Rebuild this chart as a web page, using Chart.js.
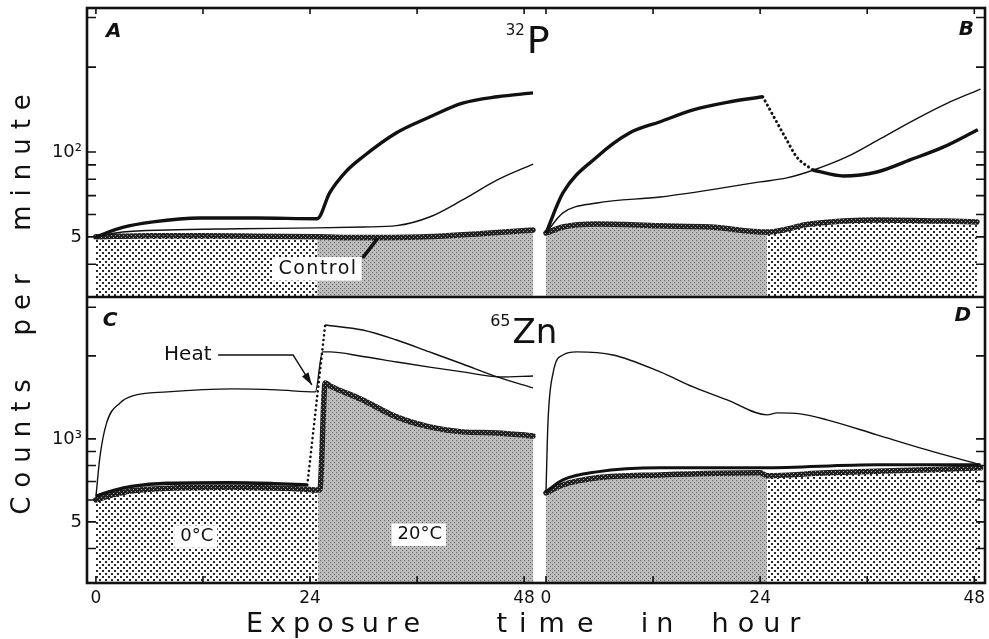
<!DOCTYPE html>
<html>
<head>
<meta charset="utf-8">
<script src="https://cdn.jsdelivr.net/npm/chart.js@4.4.1/dist/chart.umd.min.js"></script>
<style>
  html, body { margin: 0; padding: 0; background: #fff; }
  #wrap { width: 989px; height: 639px; position: relative; }
</style>
</head>
<body>
<div id="wrap"><canvas id="myChart"></canvas></div>
<script>
// hours of exposure on each panel's own axis
const hourTicks = [0, 24, 48]
const hourLabels = ["0", "24", "48"]
const hourMarks = [0, 12, 24, 36, 48]

// counts per minute, log axes
const pTickValues = [50, 100]
const pTickLabels = ["5", "10²"]
const pMarks = [40, 50, 60, 70, 80, 90, 100, 200, 300]
const znTickValues = [500, 1000]
const znTickLabels = ["5", "10³"]
const znMarks = [400, 500, 600, 700, 800, 900, 1000, 2000, 3000]

// temperature change (hour) where the shading switches
const switchHour = 24.8
const switchHourZn = 24.9

// A : 32P, heated first day
const aHeated = [[0,50],[3,54],[6.4,56.5],[11.7,58.3],[18,58.3],[24.8,58],[26.2,71.6],[28,85],[29.9,96],[33.7,117],[37.4,133],[41.1,149],[45,157],[49,162]]
const aThin = [[0,50],[3,52],[8,52.9],[16,53.4],[24.8,53.8],[30,54.2],[33.7,54.8],[37.4,58.8],[41.1,67.6],[45,79.6],[49,90.6]]
const aControl = [[0,50],[6,50.5],[12,50.5],[18,50.3],[24.8,50],[30,49.7],[37,50],[43,51.3],[49,52.9]]

// B : 32P, warm first day
const bHeatedEarly = [[0,51.6],[1.9,71.6],[5.7,96],[9.4,117],[12.8,128],[16.5,141],[20.3,150],[24.3,157]]
const bHeatedDrop = [[24.3,157],[25.9,127],[27,110],[28.1,96],[29.9,86.3]]
const bHeatedLate = [[29.9,86.3],[33.3,82.2],[37.1,84.9],[40.8,93.7],[44.5,104],[48.4,120]]
const bThin = [[0,51.6],[1.9,60.8],[5.7,65.9],[12.8,69.2],[24,78.3],[27,80.9],[30,86.3],[33.7,96],[37.6,112],[41.3,130],[45,149],[48.7,167]]
const bControl = [[0,51.6],[1.9,54.2],[5.7,55.5],[12.8,54.7],[18.4,54.2],[24.8,52],[29.6,55.5],[37.1,57.4],[48.3,56.5]]

// C : 65Zn, 0°C then 20°C
const cSteady = [[0,616],[0.45,861],[1.2,1143],[2.7,1350],[4.1,1432],[8,1480],[15.4,1518],[20.3,1505],[24.6,1480],[25.4,2067],[26.2,2067],[29.9,1990],[33.7,1901],[37.4,1820],[41.1,1749],[45.3,1677],[49,1690]]
const cHeatedCold = [[0,620],[2,650],[4,672],[8,690],[15,693],[20,688],[23.7,681]]
const cHeatJump = [[23.7,681],[25.7,2588]]
const cHeatedWarm = [[25.7,2588],[29.9,2483],[33.7,2284],[37.4,2067],[41.1,1869],[45,1677],[49,1530]]
const cControl = [[0,601],[2,628],[4,648],[8,662],[15,667],[20,663],[23.7,656],[24.9,652],[25.1,653],[25.7,1595],[26.2,1560],[29.9,1384],[33.7,1201],[37.4,1105],[41.1,1060],[45,1051],[49,1025]]

// D : 65Zn, 20°C then 0°C
const dThin = [[0,637],[0.22,1143],[0.8,1735],[1.9,2015],[3.45,2067],[7.5,2015],[12.8,1749],[16.5,1543],[20.3,1384],[24.8,1222],[25.9,1242],[28.5,1232],[31.5,1172],[37.1,1034],[42.7,912],[48.7,805]]
const dThick = [[0,643],[1.9,710],[5.7,759],[12.8,785],[24.3,785],[37.1,805],[48.7,805]]
const dControl = [[0,637],[1.9,681],[5.7,722],[12.8,740],[24,753],[24.8,735],[31.5,753],[42.7,772],[48.7,785]]

const FONT = "'DejaVu Sans', sans-serif"

function tile(size, base, dots, dotColor, dotSize) {
  const c = document.createElement("canvas")
  c.width = size; c.height = size
  const g = c.getContext("2d")
  if (base) { g.fillStyle = base; g.fillRect(0, 0, size, size) }
  g.fillStyle = dotColor
  dots.forEach(d => g.fillRect(d[0], d[1], dotSize, dotSize))
  return g.createPattern(c, "repeat")
}
const ctx = document.querySelector("#myChart").getContext("2d")
const coarse = tile(6, "#ffffff", [[0,0],[3,3]], "#2a2a2a", 2)
const fine = tile(4, "#bdbdbd", [[0,0],[2,2]], "#5e5e5e", 1)
const rope = tile(4, "#222222", [[1,1],[3,3]], "#a0a0a0", 1)

const pts = arr => arr.map(p => ({x: p[0], y: p[1]}))
const upTo = (arr, h) => arr.filter(p => p[0] <= h)
const from = (arr, h) => arr.filter(p => p[0] >= h)

function line(data, xs, ys, width, dotted) {
  return {
    data: pts(data), xAxisID: xs, yAxisID: ys,
    borderColor: "#111", borderWidth: width,
    borderDash: dotted ? [0.1, 4.6] : [],
    borderCapStyle: dotted ? "round" : "butt",
    pointRadius: 0, fill: false, cubicInterpolationMode: "monotone", order: 1
  }
}
function control(data, xs, ys) {
  return {
    data: pts(data), xAxisID: xs, yAxisID: ys,
    borderColor: rope, borderWidth: 5.5, borderCapStyle: "round",
    pointRadius: 0, fill: false, cubicInterpolationMode: "monotone", order: 2
  }
}
function ground(data, xs, ys, pattern) {
  return {
    data: pts(data), xAxisID: xs, yAxisID: ys,
    borderWidth: 0, borderColor: "rgba(0,0,0,0)", backgroundColor: pattern,
    pointRadius: 0, fill: "start", cubicInterpolationMode: "monotone", order: 3
  }
}

const datasets = [
  line(aHeated, "xL", "yTop", 3.4), line(aThin, "xL", "yTop", 1.4), control(aControl, "xL", "yTop"),
  ground(upTo(aControl, switchHour), "xL", "yTop", coarse), ground(from(aControl, switchHour), "xL", "yTop", fine),

  line(bHeatedEarly, "xR", "yTop", 3.4), line(bHeatedDrop, "xR", "yTop", 3, true), line(bHeatedLate, "xR", "yTop", 3.4),
  line(bThin, "xR", "yTop", 1.4), control(bControl, "xR", "yTop"),
  ground(upTo(bControl, switchHour), "xR", "yTop", fine), ground(from(bControl, switchHour), "xR", "yTop", coarse),

  line(cSteady, "xL", "yBot", 1.4), line(cHeatedCold, "xL", "yBot", 3.4), line(cHeatJump, "xL", "yBot", 2.6, true),
  line(cHeatedWarm, "xL", "yBot", 1.4), control(cControl, "xL", "yBot"),
  ground(upTo(cControl, switchHourZn), "xL", "yBot", coarse), ground(from(cControl, switchHourZn), "xL", "yBot", fine),

  line(dThin, "xR", "yBot", 1.4), line(dThick, "xR", "yBot", 3), control(dControl, "xR", "yBot"),
  ground(upTo(dControl, switchHour), "xR", "yBot", fine), ground(from(dControl, switchHour), "xR", "yBot", coarse)
]

function hourAxis(min, max, weight, order) {
  return {
    type: "linear", position: "bottom", stack: "hours", stackWeight: weight, weight: order,
    min: min, max: max,
    grid: { display: false, drawTicks: false }, border: { display: false },
    afterBuildTicks: s => { s.ticks = hourTicks.map(v => ({value: v})) },
    afterFit: s => { s.height = 56; s.paddingLeft = 0; s.paddingRight = 0 },
    ticks: {
      autoSkip: false, maxRotation: 0, padding: 5, color: "#111",
      font: { family: FONT, size: 17 },
      callback: v => hourLabels[hourTicks.indexOf(v)]
    }
  }
}
function countAxis(min, max, weight, order, values, labels) {
  return {
    type: "logarithmic", position: "left", stack: "counts", stackWeight: weight, weight: order,
    min: min, max: max,
    grid: { display: false, drawTicks: false }, border: { display: false },
    afterBuildTicks: s => { s.ticks = values.map(v => ({value: v})) },
    afterFit: s => { s.width = 87; s.paddingTop = 0; s.paddingBottom = 0 },
    ticks: {
      autoSkip: false, padding: 5, color: "#111",
      font: { family: FONT, size: 18 },
      callback: v => labels[values.indexOf(v)]
    }
  }
}

const frame = {
  id: "frame",
  afterDraw(chart) {
    const {ctx, chartArea: a, scales} = chart
    ctx.save()
    ctx.strokeStyle = "#111"
    ctx.lineWidth = 1.6
    ;["xL", "xR"].forEach(id => {
      hourMarks.forEach(h => {
        const x = scales[id].getPixelForValue(h)
        ctx.beginPath()
        ctx.moveTo(x, a.top); ctx.lineTo(x, a.top + 6)
        ctx.moveTo(x, a.bottom); ctx.lineTo(x, a.bottom - 7)
        ctx.stroke()
      })
    })
    ;[["yTop", pMarks], ["yBot", znMarks]].forEach(([id, marks]) => {
      marks.forEach(v => {
        const y = scales[id].getPixelForValue(v)
        ctx.beginPath()
        ctx.moveTo(a.left, y); ctx.lineTo(a.left + 9, y)
        ctx.moveTo(a.right, y); ctx.lineTo(a.right - 9, y)
        ctx.stroke()
      })
    })
    ctx.lineWidth = 2.6
    ctx.strokeRect(a.left, a.top, a.right - a.left, a.bottom - a.top)
    const mid = scales.yTop.bottom
    ctx.beginPath(); ctx.moveTo(a.left, mid); ctx.lineTo(a.right, mid); ctx.stroke()
    ctx.restore()
  }
}

const notes = {
  id: "notes",
  afterDraw(chart) {
    const {ctx, scales: s} = chart
    const X = (id, h) => s[id].getPixelForValue(h)
    const Y = (id, v) => s[id].getPixelForValue(v)
    ctx.save()
    ctx.fillStyle = "#111"
    ctx.strokeStyle = "#111"

    // panel letters
    ctx.font = "italic 600 20px " + FONT
    ctx.textAlign = "center"; ctx.textBaseline = "middle"
    ;[["A","xL",2,"yTop",266],["B","xR",47.1,"yTop",271],["C","xL",1.6,"yBot",2676],["D","xR",46.7,"yBot",2790]]
      .forEach(p => ctx.fillText(p[0], X(p[1], p[2]), Y(p[3], p[4])))

    // isotope names
    ctx.textBaseline = "alphabetic"
    const iso = (sup, el, x, base, supBase, size, supSize) => {
      ctx.font = size + "px " + FONT; ctx.textAlign = "left"
      ctx.fillText(el, x, base)
      ctx.font = supSize + "px " + FONT; ctx.textAlign = "right"
      ctx.fillText(sup, x - 2, supBase)
    }
    iso("32", "P", X("xL", 48.3), Y("yTop", 224), Y("yTop", 260), 38, 15)
    iso("65", "Zn", X("xL", 46.7), Y("yBot", 2228), Y("yBot", 2567), 34, 16)

    // boxed labels
    const boxed = (str, x, y, size, spacing) => {
      ctx.font = size + "px " + FONT
      ctx.letterSpacing = spacing + "px"
      const w = ctx.measureText(str).width
      ctx.fillStyle = "#fff"
      ctx.fillRect(x - w / 2 - 6, y - size * 0.62, w + 10, size * 1.24)
      ctx.fillStyle = "#111"
      ctx.textAlign = "center"; ctx.textBaseline = "middle"
      ctx.fillText(str, x, y)
      ctx.letterSpacing = "0px"
    }
    // leader from Control to its curve
    ctx.lineWidth = 3.5
    ctx.beginPath(); ctx.moveTo(X("xL", 29.9), Y("yTop", 42.1)); ctx.lineTo(X("xL", 31.6), Y("yTop", 49.5)); ctx.stroke()
    boxed("Control", X("xL", 24.9), Y("yTop", 38.5), 19, 1.5)
    boxed("0°C", X("xL", 11.3), Y("yBot", 442), 18, 0)
    boxed("20°C", X("xL", 36.3), Y("yBot", 449), 18, 0)

    // Heat arrow
    ctx.font = "20px " + FONT
    ctx.textAlign = "center"; ctx.textBaseline = "middle"
    ctx.fillText("Heat", X("xL", 10.3), Y("yBot", 2015))
    const p1 = [X("xL", 13.7), Y("yBot", 2015)]
    const p2 = [X("xL", 22.1), Y("yBot", 2015)]
    const p3 = [X("xL", 24.2), Y("yBot", 1569)]
    ctx.lineWidth = 1.5
    ctx.beginPath(); ctx.moveTo(p1[0], p1[1]); ctx.lineTo(p2[0], p2[1]); ctx.lineTo(p3[0], p3[1]); ctx.stroke()
    const ang = Math.atan2(p3[1] - p2[1], p3[0] - p2[0])
    ctx.beginPath()
    ctx.moveTo(p3[0], p3[1])
    ctx.lineTo(p3[0] - 13 * Math.cos(ang - 0.3), p3[1] - 13 * Math.sin(ang - 0.3))
    ctx.lineTo(p3[0] - 13 * Math.cos(ang + 0.3), p3[1] - 13 * Math.sin(ang + 0.3))
    ctx.closePath(); ctx.fill()

    // x axis title, word by word like the wide lettering of the original
    ctx.font = "27px " + FONT
    ctx.textAlign = "center"; ctx.textBaseline = "alphabetic"
    ;[["Exposure", 333, 7], ["time", 545, 12], ["in", 657, 8], ["hour", 756, 9]].forEach(w => {
      ctx.letterSpacing = w[2] + "px"
      ctx.fillText(w[0], w[1] + w[2] / 2, 632)
    })
    ctx.translate(23, 300)
    ctx.rotate(-Math.PI / 2)
    ctx.font = "26px " + FONT
    ctx.letterSpacing = "9px"
    ctx.textBaseline = "middle"
    ctx.fillText("Counts  per  minute", 0, 0)
    ctx.restore()
  }
}

let chartOne = new Chart(ctx, {
  type: "line",
  data: { datasets: datasets },
  options: {
    responsive: true,
    maintainAspectRatio: false,
    animation: false,
    layout: { padding: { top: 8, right: 4, left: 0, bottom: 0 } },
    plugins: { legend: { display: false }, tooltip: { enabled: false } },
    scales: {
      xL: hourAxis(-1, 49.78, 453, 1),
      xR: hourAxis(-0.67, 49.2, 445, 2),
      yTop: countAxis(30.6, 324, 289, 2, pTickValues, pTickLabels),
      yBot: countAxis(300, 3270, 286, 1, znTickValues, znTickLabels)
    }
  },
  plugins: [frame, notes]
})
</script>
</body>
</html>
